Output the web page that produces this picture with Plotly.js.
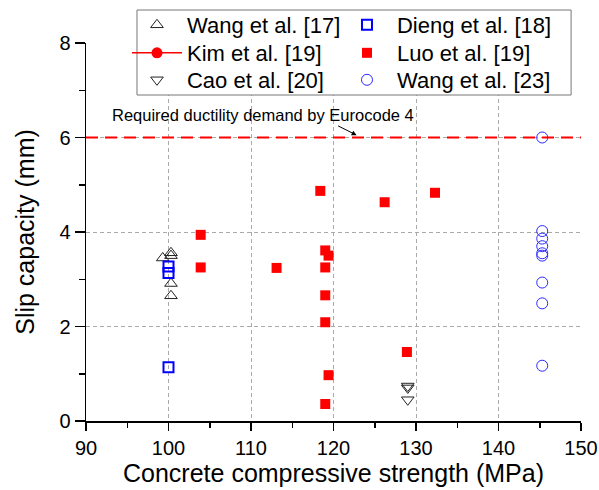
<!DOCTYPE html>
<html>
<head>
<meta charset="utf-8">
<script src="https://cdn.plot.ly/plotly-3.0.1.min.js"></script>
<style>
  html, body { margin: 0; padding: 0; background: #fff; }
  #chart { width: 599px; height: 490px; }
</style>
</head>
<body>
<div id="chart"></div>
<script>
// Slip capacity of shear connectors vs. concrete compressive strength

const wang17X = [99.3, 100.3, 100.3, 100.3, 100.3];
const wang17Y = [3.45, 3.56, 3.50, 2.91, 2.65];

const dieng18X = [100.0, 100.0, 100.0];
const dieng18Y = [3.27, 3.13, 1.14];

// Kim et al. [19]: legend entry only, no plotted values
const kim19X = [null];
const kim19Y = [null];

const luo19X = [103.9, 103.9, 113.1, 118.4, 126.2, 132.3, 119.0, 119.4, 119.0, 119.0, 119.0, 128.9, 119.4, 119.0];
const luo19Y = [3.94, 3.25, 3.24, 4.87, 4.63, 4.83, 3.61, 3.50, 3.25, 2.66, 2.09, 1.46, 0.97, 0.36];

const cao20X = [129.0, 129.0, 129.0];
const cao20Y = [0.74, 0.70, 0.45];

const wang23X = [145.3, 145.3, 145.3, 145.3, 145.3, 145.3, 145.3, 145.3, 145.3];
const wang23Y = [6.0, 4.02, 3.86, 3.70, 3.55, 3.50, 2.93, 2.49, 1.17];

// Required ductility demand (Eurocode 4)
const eurocodeDemand = 6;

const xRange = [90, 150];
const yRange = [0, 8];

const FONT = 'Liberation Sans, Arial, sans-serif';

const COL1 = 145;   // legend entry width, left column
const COL2 = 170;   // legend entry width, right column

const traces = [
  {
    name: 'Wang et al. [17]', legend: 'legend', legendwidth: COL1, x: wang17X, y: wang17Y, type: 'scatter', mode: 'markers',
    marker: { symbol: 'triangle-up-open', size: 11, color: '#222', line: { width: 1 } }
  },
  {
    name: 'Dieng et al. [18]', legend: 'legend', legendwidth: COL2, x: dieng18X, y: dieng18Y, type: 'scatter', mode: 'markers',
    marker: { symbol: 'square-open', size: 10, color: '#0000ff', line: { width: 2 } }
  },
  {
    name: 'Kim et al. [19]', legend: 'legend2', legendwidth: COL1, x: kim19X, y: kim19Y, type: 'scatter', mode: 'lines+markers',
    line: { color: '#ff0000', width: 1.5 },
    marker: { symbol: 'circle', size: 11, color: '#ff0000' }
  },
  {
    name: 'Luo et al. [19]', legend: 'legend2', legendwidth: COL2, x: luo19X, y: luo19Y, type: 'scatter', mode: 'markers',
    marker: { symbol: 'square', size: 10, color: '#ff0000' }
  },
  {
    name: 'Cao et al. [20]', legend: 'legend3', legendwidth: COL1, x: cao20X, y: cao20Y, type: 'scatter', mode: 'markers',
    marker: { symbol: 'triangle-down-open', size: 11, color: '#222', line: { width: 1 } }
  },
  {
    name: 'Wang et al. [23]', legend: 'legend3', legendwidth: COL2, x: wang23X, y: wang23Y, type: 'scatter', mode: 'markers',
    marker: { symbol: 'circle-open', size: 11, color: '#2a2aff', line: { width: 1 } }
  }
];

const baseAxis = {
  showline: true, linecolor: '#000', linewidth: 1.5,
  mirror: false, zeroline: false,
  tickfont: { family: FONT, size: 20, color: '#000' },
  tickcolor: '#000', tickwidth: 1.5
};

// one horizontal legend per row, laid out inside a shared frame
function legendRow(yPaper) {
  return {
    orientation: 'h',
    x: 0.0828, xanchor: 'left',
    y: yPaper, yanchor: 'middle',
    itemwidth: 50,
    bgcolor: 'rgba(0,0,0,0)', borderwidth: 0,
    font: { family: FONT, size: 22, color: '#000' },
    traceorder: 'normal'
  };
}

const layout = {
  width: 599, height: 490,
  margin: { l: 86, r: 18, t: 43, b: 69, autoexpand: false },
  paper_bgcolor: '#fff', plot_bgcolor: '#fff',
  font: { family: FONT, color: '#000' },
  showlegend: true,
  legend: legendRow(1.0476),
  legend2: legendRow(0.9735),
  legend3: legendRow(0.9021),
  xaxis: Object.assign({}, baseAxis, {
    range: xRange, dtick: 10, tick0: 90,
    ticks: 'outside', ticklen: 8,
    showgrid: true, gridcolor: '#aaaaaa', gridwidth: 1, griddash: '4px,3px',
    minor: { dtick: 5, ticks: 'outside', ticklen: 5, tickcolor: '#000', tickwidth: 1.5, showgrid: false },
    title: { text: 'Concrete compressive strength (MPa)', font: { family: FONT, size: 25, color: '#000' }, standoff: 0 }
  }),
  yaxis: Object.assign({}, baseAxis, {
    range: yRange, dtick: 2, tick0: 0,
    ticks: 'outside', ticklen: 10,
    showgrid: true, gridcolor: '#aaaaaa', gridwidth: 1, griddash: '4px,3px',
    minor: { dtick: 1, ticks: 'outside', ticklen: 6, tickcolor: '#000', tickwidth: 1.5, showgrid: false },
    title: { text: 'Slip capacity (mm)', font: { family: FONT, size: 25, color: '#000' }, standoff: 17 }
  }),
  xaxis2: Object.assign({}, baseAxis, {
    overlaying: 'x', side: 'top', anchor: 'y', range: xRange, dtick: 10, tick0: 90,
    ticks: 'inside', ticklen: 6, showticklabels: false, showgrid: false,
    minor: { dtick: 5, ticks: 'inside', ticklen: 3, tickcolor: '#000', tickwidth: 1.5, showgrid: false }
  }),
  yaxis2: Object.assign({}, baseAxis, {
    overlaying: 'y', side: 'right', anchor: 'x', range: yRange, dtick: 2, tick0: 0,
    ticks: 'inside', ticklen: 8, showticklabels: false, showgrid: false,
    minor: { dtick: 1, ticks: 'inside', ticklen: 4, tickcolor: '#000', tickwidth: 1.5, showgrid: false }
  }),
  shapes: [
    {
      type: 'line', xref: 'paper', x0: 0, x1: 1, yref: 'y', y0: eurocodeDemand, y1: eurocodeDemand,
      line: { color: '#ff0000', width: 2, dash: '12px,7px' }, layer: 'above'
    },
    {
      // legend frame
      type: 'rect', xref: 'paper', yref: 'paper',
      x0: 0.103, x1: 0.980, y0: 0.8624, y1: 1.0873,
      fillcolor: '#fff', line: { color: '#777', width: 1 }, layer: 'above'
    }
  ],
  annotations: [
    {
      text: 'Required ductility demand by Eurocode 4',
      xref: 'x', yref: 'y', x: 92.9, y: 6.48, xanchor: 'left', yanchor: 'middle',
      showarrow: false, font: { family: FONT, size: 16.5, color: '#000' }
    },
    {
      text: '', xref: 'x', yref: 'y', x: 122.8, y: eurocodeDemand + 0.05,
      showarrow: true, ax: -20, ay: -10, arrowhead: 2, arrowsize: 1, arrowwidth: 1, arrowcolor: '#000'
    }
  ]
};

Plotly.newPlot('chart', traces, layout, { displayModeBar: false, staticPlot: true });
</script>
</body>
</html>
